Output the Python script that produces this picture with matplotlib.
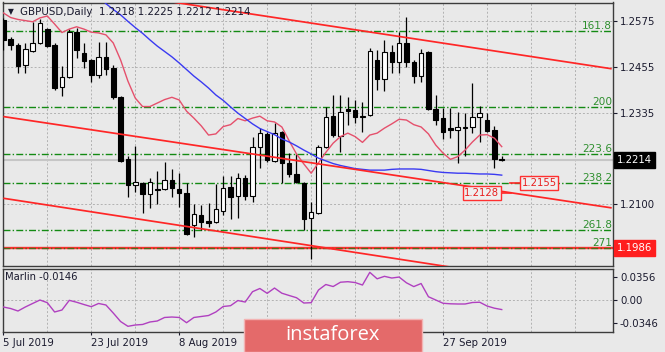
import numpy as np
import matplotlib
matplotlib.use("Agg")
import matplotlib.pyplot as plt
from matplotlib.patches import Rectangle
import matplotlib.transforms as mtransforms

# ---------------- data ----------------
title_text = "GBPUSD,Daily  1.2218 1.2225 1.2212 1.2214"
marlin_text = "Marlin -0.0146"

opens = [1.2578, 1.2528, 1.2513, 1.2461, 1.2497, 1.2518, 1.2554, 1.2513, 1.2404, 1.2430,
         1.2546, 1.2492, 1.2474, 1.2435, 1.2482, 1.2453, 1.2378, 1.2217, 1.2150, 1.2155,
         1.2126, 1.2139, 1.2139, 1.2162, 1.2139, 1.2129, 1.2046, 1.2072, 1.2055, 1.2053,
         1.2082, 1.2144, 1.2121, 1.2168, 1.2121, 1.2248, 1.2282, 1.2212, 1.2287, 1.2207,
         1.2178, 1.2155, 1.2064, 1.2077, 1.2248, 1.2328, 1.2277, 1.2347, 1.2344, 1.2326,
         1.2331, 1.2474, 1.2424, 1.2495, 1.2469, 1.2518, 1.2469, 1.2432, 1.2495, 1.2347,
         1.2323, 1.2297, 1.2292, 1.2298, 1.2300, 1.2326, 1.2318, 1.2292, 1.2218]
highs = [1.2583, 1.2533, 1.2518, 1.2518, 1.2572, 1.2580, 1.2557, 1.2518, 1.2458, 1.2554,
         1.2557, 1.2518, 1.2476, 1.2521, 1.2521, 1.2461, 1.2380, 1.2225, 1.2251, 1.2157,
         1.2168, 1.2186, 1.2209, 1.2191, 1.2181, 1.2155, 1.2100, 1.2098, 1.2103, 1.2152,
         1.2173, 1.2173, 1.2181, 1.2175, 1.2274, 1.2297, 1.2287, 1.2310, 1.2289, 1.2232,
         1.2230, 1.2157, 1.2105, 1.2253, 1.2352, 1.2383, 1.2383, 1.2378, 1.2370, 1.2365,
         1.2505, 1.2500, 1.2526, 1.2513, 1.2546, 1.2585, 1.2474, 1.2502, 1.2497, 1.2383,
         1.2349, 1.2349, 1.2339, 1.2336, 1.2414, 1.2354, 1.2336, 1.2303, 1.2225]
lows = [1.2500, 1.2500, 1.2440, 1.2440, 1.2495, 1.2516, 1.2508, 1.2396, 1.2380, 1.2427,
        1.2479, 1.2453, 1.2417, 1.2427, 1.2435, 1.2373, 1.2209, 1.2118, 1.2131, 1.2077,
        1.2090, 1.2100, 1.2137, 1.2118, 1.2092, 1.2020, 1.2015, 1.2033, 1.2040, 1.2051,
        1.2072, 1.2061, 1.2064, 1.2111, 1.2105, 1.2194, 1.2209, 1.2209, 1.2155, 1.2170,
        1.2155, 1.2033, 1.1957, 1.2075, 1.2245, 1.2274, 1.2235, 1.2305, 1.2310, 1.2287,
        1.2328, 1.2396, 1.2393, 1.2440, 1.2440, 1.2456, 1.2414, 1.2417, 1.2344, 1.2305,
        1.2269, 1.2271, 1.2207, 1.2225, 1.2284, 1.2261, 1.2287, 1.2194, 1.2212]
closes = [1.2526, 1.2513, 1.2458, 1.2502, 1.2518, 1.2570, 1.2510, 1.2401, 1.2430, 1.2546,
          1.2500, 1.2471, 1.2435, 1.2482, 1.2450, 1.2378, 1.2212, 1.2150, 1.2157, 1.2126,
          1.2157, 1.2137, 1.2162, 1.2142, 1.2129, 1.2022, 1.2074, 1.2053, 1.2052, 1.2087,
          1.2142, 1.2118, 1.2168, 1.2121, 1.2248, 1.2284, 1.2214, 1.2284, 1.2207, 1.2178,
          1.2157, 1.2061, 1.2079, 1.2248, 1.2326, 1.2279, 1.2339, 1.2341, 1.2326, 1.2328,
          1.2497, 1.2424, 1.2495, 1.2469, 1.2518, 1.2469, 1.2432, 1.2492, 1.2346, 1.2318,
          1.2287, 1.2292, 1.2300, 1.2299, 1.2326, 1.2336, 1.2290, 1.2217, 1.2214]

ma_fast = [1.2596, 1.2584, 1.2579, 1.2576, 1.2573, 1.2583, 1.2588, 1.2567, 1.2545, 1.2554,
           1.2560, 1.2554, 1.2546, 1.2544, 1.2539, 1.2518, 1.2474, 1.2419, 1.2375, 1.2353,
           1.2353, 1.2362, 1.2371, 1.2377, 1.2370, 1.2341, 1.2323, 1.2303, 1.2279, 1.2282,
           1.2301, 1.2306, 1.2322, 1.2316, 1.2323, 1.2328, 1.2316, 1.2313, 1.2300, 1.2264,
           1.2230, 1.2204, 1.2180, 1.2207, 1.2234, 1.2258, 1.2275, 1.2284, 1.2275, 1.2260,
           1.2279, 1.2284, 1.2297, 1.2308, 1.2320, 1.2318, 1.2306, 1.2300, 1.2282, 1.2253,
           1.2232, 1.2216, 1.2223, 1.2240, 1.2261, 1.2279, 1.2280, 1.2271, 1.2249]

ma_slow = [np.nan] * 13 + [
           1.2637, 1.2620, 1.2605, 1.2591, 1.2574, 1.2558, 1.2543, 1.2526, 1.2510, 1.2496,
           1.2482, 1.2466, 1.2449, 1.2432, 1.2417, 1.2401, 1.2383, 1.2369, 1.2352, 1.2336,
           1.2322, 1.2308, 1.2296, 1.2288, 1.2280, 1.2269, 1.2261, 1.2251, 1.2240, 1.2230,
           1.2219, 1.2212, 1.2205, 1.2200, 1.2196, 1.2192, 1.2190, 1.2188, 1.2188, 1.2188,
           1.2190, 1.2191, 1.2191, 1.2191, 1.2190, 1.2187, 1.2184, 1.2182, 1.2181, 1.2180,
           1.2180, 1.2179, 1.2178, 1.2178, 1.2177, 1.2175]

marlin = [-0.0107, -0.0130, -0.0168, -0.0107, -0.0053, 0.0000, -0.0041, -0.0183, -0.0153, -0.0005,
          -0.0034, -0.0069, -0.0102, -0.0053, -0.0076, -0.0199, -0.0329, -0.0402, -0.0382, -0.0374,
          -0.0336, -0.0321, -0.0267, -0.0260, -0.0267, -0.0347, -0.0267, -0.0252, -0.0237, -0.0183,
          -0.0099, -0.0087, -0.0008, -0.0031, 0.0127, 0.0176, 0.0102, 0.0183, 0.0104, 0.0069,
          0.0035, -0.0046, -0.0041, 0.0153, 0.0237, 0.0206, 0.0272, 0.0280, 0.0267, 0.0229,
          0.0423, 0.0324, 0.0362, 0.0336, 0.0351, 0.0263, 0.0205, 0.0252, 0.0050, 0.0000,
          -0.0050, -0.0058, -0.0061, -0.0061, -0.0038, -0.0034, -0.0092, -0.0125, -0.0146]

date_bars = [0, 12, 24, 60]
date_labels = ["5 Jul 2019", "23 Jul 2019", "8 Aug 2019", "27 Sep 2019"]

price_ticks = [1.2575, 1.2455, 1.2335, 1.2100]
price_tick_labels = ["1.2575", "1.2455", "1.2335", "1.2100"]
osc_ticks = [0.0356, 0.0, -0.0346]
osc_tick_labels = ["0.0356", "0.00", "-0.0346"]

fib_labels = ["161.8", "200", "223.6", "238.2", "261.8", "271"]
fib_prices = [1.2549, 1.2352, 1.2230, 1.2155, 1.2033, 1.1987]

# trend lines: (bar, price) anchors
trend_upper = [(0, 1.2691), (83, 1.2451)]
trend_middle = [(0, 1.2327), (83, 1.2090)]
trend_lower = [(0, 1.2115), (83, 1.1872)]
support_level = 1.1986
bid_price = 1.2214
label_a = ("1.2155", 1.2155, 70.7, (69.1, 70.5))
label_b = ("1.2128", 1.2128, 62.9, (67.9, 69.2))

# ---------------- figure ----------------
W, H = 665, 352
BG = "#e9e9e9"
TXT = "#1a1a2e"
fig = plt.figure(figsize=(W / 100, H / 100), dpi=100, facecolor=BG)
plt.rcParams["font.family"] = ["DejaVu Sans"]


def fx(px):
    return px / W


def fy(py):
    return 1 - py / H


ax = fig.add_axes([fx(2.5), fy(266), fx(613) - fx(2.5), fy(2.5) - fy(266)])
ax2 = fig.add_axes([fx(2.5), fy(332), fx(613) - fx(2.5), fy(269) - fy(332)])

for a in (ax, ax2):
    a.set_facecolor(BG)
    for s in a.spines.values():
        s.set_color("#3c3c3c")
        s.set_linewidth(1.0)
    a.set_xlim(-0.11, 83.18)

ax.set_ylim(1.19392, 1.26230)
ax2.set_ylim(-0.0489, 0.0474)

grid_kw = dict(color="#b2b2b2", lw=0.7, ls=(0, (2, 2)), zorder=0)
for g in range(6, 84, 6):
    ax.axvline(g, **grid_kw)
    ax2.axvline(g, **grid_kw)
for p in price_ticks:
    ax.axhline(p, **grid_kw)
ax2.axhline(0.0, **grid_kw)

# bid line
ax.axhline(bid_price, color="#c6c6c6", lw=1.5, zorder=1)

# support red line + fib levels
ax.axhline(support_level, color="#ff3030", lw=1.7, zorder=2)
fib_off = mtransforms.offset_copy(ax.get_yaxis_transform(), fig=fig, x=-1, y=2, units="dots")
for lbl, p in zip(fib_labels, fib_prices):
    col = "#4d6b1a" if lbl == "271" else "#138a13"
    ax.axhline(p, color=col, lw=1.0, ls=(0, (5, 1.6, 1, 1.6)), zorder=2)
    ax.text(1.0, p, lbl, transform=fib_off, ha="right", va="baseline",
            color="#2f8f2f", fontsize=7.6, zorder=7)

# candles
x = np.arange(len(opens))
o = np.array(opens); h = np.array(highs); l = np.array(lows); c = np.array(closes)
up = c >= o
ax.vlines(x, l, h, color="black", lw=0.9, zorder=3)
body_bottom = np.minimum(o, c)
body_h = np.maximum(np.abs(c - o), 0.00004)
ax.bar(x, body_h, bottom=body_bottom, width=0.62,
       color=np.where(up, "white", "black"), edgecolor="black", linewidth=0.8, zorder=4)

# moving averages
ax.plot(x, ma_fast, color="#e5506c", lw=1.0, zorder=5)
ax.plot(x, ma_slow, color="#3a3af2", lw=1.0, zorder=5)

# trend lines
for (x0, p0), (x1, p1) in (trend_upper, trend_middle, trend_lower):
    ax.plot([x0, x1], [p0, p1], color="#ff2626", lw=1.25, zorder=6, solid_capstyle="butt")

# price label objects
for txt, p, tx, (lx0, lx1) in (label_a, label_b):
    ax.plot([lx0, lx1], [p, p], color="#ff2626", lw=1.2, zorder=7)
    ax.text(tx, p, txt, ha="left", va="center", color="#e82020", fontsize=7.2, zorder=8,
            bbox=dict(boxstyle="square,pad=0.18", fc="#efefef", ec="#ff3030", lw=1.0))

# axes ticks
ax.set_xticks([])
ax.yaxis.tick_right()
ax.set_yticks(price_ticks)
ax.set_yticklabels(price_tick_labels)
ax.tick_params(axis="y", length=3, width=0.8, pad=2, labelsize=7.3, colors=TXT, labelcolor=TXT)

ax2.yaxis.tick_right()
ax2.set_yticks(osc_ticks)
ax2.set_yticklabels(osc_tick_labels)
ax2.tick_params(axis="y", length=3, width=0.8, pad=2, labelsize=7.3, colors=TXT)
ax2.set_xticks(date_bars)
ax2.set_xticklabels(date_labels)
ax2.tick_params(axis="x", length=2.5, width=0.8, pad=1.5, labelsize=7.3, colors=TXT)
for t in ax2.get_xticklabels():
    t.set_ha("left")

# right axis price boxes
box_tr = mtransforms.offset_copy(ax.get_yaxis_transform(), fig=fig, x=4, y=0, units="dots")
ax.text(1.0, bid_price, "1.2214", transform=box_tr, ha="left", va="center", color="white",
        fontsize=7.3, clip_on=False, zorder=9,
        bbox=dict(boxstyle="square,pad=0.28", fc="black", ec="black"))
ax.text(1.0, support_level, "1.1986", transform=box_tr, ha="left", va="center", color="white",
        fontsize=7.3, clip_on=False, zorder=9,
        bbox=dict(boxstyle="square,pad=0.28", fc="#ff1e1e", ec="#ff1e1e"))

# oscillator
ax2.plot(x, marlin, color="#b040c0", lw=1.0, zorder=3)

# header texts
fig.text(fx(7.5), fy(12), "\u25BC", fontsize=5.5, color=TXT, va="center", ha="left")
fig.text(fx(20), fy(12), title_text, fontsize=7.4, color=TXT, va="center", ha="left")
fig.text(fx(5), fy(277.5), marlin_text, fontsize=7.2, color=TXT, va="center", ha="left")

# watermark
wm = Rectangle((fx(244), 0), fx(422) - fx(244), (H - 319) / H, transform=fig.transFigure,
               fc="#e46a6a", ec="#f3b3b3", lw=1.0, zorder=20)
fig.add_artist(wm)
fig.text(fx(333), fy(335.5), "instaforex", color="white", fontsize=14.5, ha="center",
         va="center", family=["Open Sans", "DejaVu Sans"], zorder=21)

fig.savefig("out.png", dpi=100, facecolor=BG)
